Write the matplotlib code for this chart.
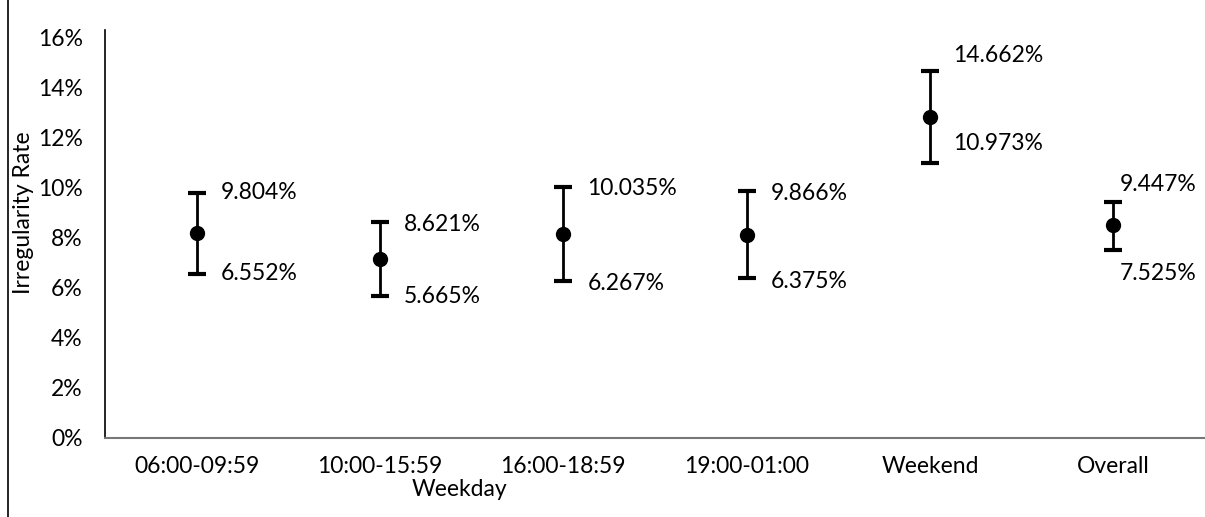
import matplotlib
matplotlib.use("Agg")
import matplotlib.pyplot as plt
import numpy as np
from matplotlib.lines import Line2D
from matplotlib.ticker import FuncFormatter

plt.rcParams["font.family"] = ["Lato", "DejaVu Sans"]

# ── data ──────────────────────────────────────────────────────────────────────
categories = ["06:00-09:59", "10:00-15:59", "16:00-18:59", "19:00-01:00",
              "Weekend", "Overall"]
mean  = [8.18, 7.14, 8.15, 8.12, 12.82, 8.49]
upper = [9.804, 8.621, 10.035, 9.866, 14.662, 9.447]
lower = [6.552, 5.665, 6.267, 6.375, 10.973, 7.525]

# label offsets in pixels (x, upper dy, lower dy)
lab_dx  = [24, 24, 24, 24, 23, 6]
up_dy   = [0, -2, -2, -2, 16, 17]
low_dy  = [0, 0, -2, -3, 20, -24]

FS = 16.5

# ── plot ──────────────────────────────────────────────────────────────────────
W, H, DPI = 1205, 517, 100
fig = plt.figure(figsize=(W / DPI, H / DPI), dpi=DPI)
ax = fig.add_axes([105 / W, 1 - 438 / H, 1 - 105 / W, (438 - 30) / H])

x = np.arange(len(categories))
mean_a, up_a, lo_a = map(np.array, (mean, upper, lower))
ax.errorbar(x, mean_a, yerr=[mean_a - lo_a, up_a - mean_a], fmt="o",
            color="black", ms=10, elinewidth=2, capsize=6.5, capthick=3)

px = 72 / DPI
for i in range(len(categories)):
    ax.annotate(f"{upper[i]:.3f}%", (x[i], upper[i]),
                xytext=(lab_dx[i] * px, up_dy[i] * px), textcoords="offset points",
                ha="left", va="center", fontsize=FS)
    ax.annotate(f"{lower[i]:.3f}%", (x[i], lower[i]),
                xytext=(lab_dx[i] * px, low_dy[i] * px), textcoords="offset points",
                ha="left", va="center", fontsize=FS)

ax.set_xlim(-0.5, len(categories) - 0.5)
ax.set_ylim(0, 16.3)
ax.set_yticks(np.arange(0, 17, 2))
ax.yaxis.set_major_formatter(FuncFormatter(lambda v, _: f"{v:.0f}%"))
ax.set_xticks(x)
ax.set_xticklabels(categories)
ax.tick_params(axis="both", length=0, labelsize=FS)
ax.tick_params(axis="y", pad=16)
ax.tick_params(axis="x", pad=13)

ax.spines[["top", "right"]].set_visible(False)
ax.spines["left"].set_color("black")
ax.spines["left"].set_linewidth(1.2)
ax.spines["bottom"].set_color("#777777")
ax.spines["bottom"].set_linewidth(1.5)

fig.text(23 / W, 1 - 213 / H, "Irregularity Rate", rotation=90,
         ha="center", va="center", fontsize=FS)
fig.text(459 / W, 1 - 490 / H, "Weekday", ha="center", va="center", fontsize=FS)

# scanned page border on the left
fig.add_artist(Line2D([8 / W, 8 / W], [0, 1], color="black", lw=1.2))

fig.savefig("out.png", dpi=DPI)
